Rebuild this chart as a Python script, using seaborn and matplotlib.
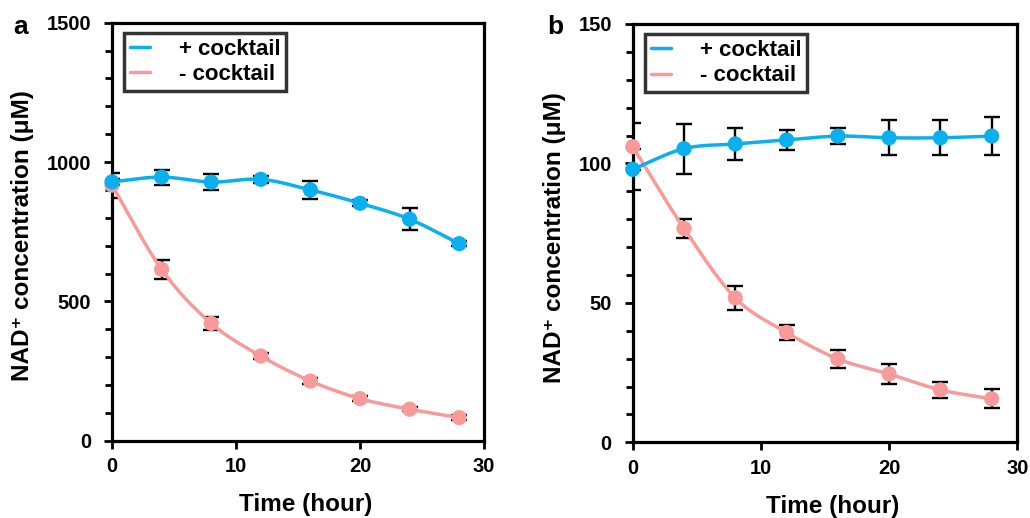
import numpy as np
import pandas as pd
import matplotlib
matplotlib.use("Agg")
import matplotlib.pyplot as plt
from matplotlib.ticker import MultipleLocator
from matplotlib.lines import Line2D
import seaborn as sns

# ---------------- data ----------------
time_h = [0, 4, 8, 12, 16, 20, 24, 28]

a_plus = [929, 946, 928, 938, 900, 852, 795, 707]
a_plus_err = [10, 27, 30, 12, 31, 10, 39, 10]
a_minus = [917, 615, 421, 304, 214, 151, 113, 83]
a_minus_err = [45, 33, 22, 10, 12, 8, 8, 8]

b_plus = [97.9, 105.3, 107.0, 108.4, 109.8, 109.2, 109.2, 109.8]
b_plus_err = [7.3, 9.0, 5.7, 3.7, 2.9, 6.3, 6.3, 6.8]
b_minus = [106.0, 76.7, 51.8, 39.4, 29.9, 24.5, 18.8, 15.6]
b_minus_err = [8.5, 3.4, 4.3, 2.8, 3.2, 3.5, 3.0, 3.4]

series_labels = ["+ cocktail", "- cocktail"]
panel_letters = ["a", "b"]
x_label = "Time (hour)"
y_label = "NAD\u207a concentration (\u03bcM)"

BLUE = "#0AB0EE"
PINK = "#F89A9A"

sns.set_theme(style="white")
plt.rcParams["font.family"] = ["Liberation Sans", "DejaVu Sans"]
plt.rcParams["font.weight"] = "bold"
for key in ("text.color", "axes.labelcolor", "xtick.color", "ytick.color"):
    plt.rcParams[key] = "black"


def smooth(x, y, n=20):
    """Catmull-Rom display curve through the data points (rendering only)."""
    x = np.asarray(x, float)
    y = np.asarray(y, float)
    px = np.concatenate([[2 * x[0] - x[1]], x, [2 * x[-1] - x[-2]]])
    py = np.concatenate([[2 * y[0] - y[1]], y, [2 * y[-1] - y[-2]]])
    xs, ys = [], []
    t = np.linspace(0, 1, n, endpoint=False)
    for i in range(1, len(px) - 2):
        for arr, out in ((px, xs), (py, ys)):
            p0, p1, p2, p3 = arr[i - 1], arr[i], arr[i + 1], arr[i + 2]
            out.extend(0.5 * ((2 * p1) + (-p0 + p2) * t
                              + (2 * p0 - 5 * p1 + 4 * p2 - p3) * t ** 2
                              + (-p0 + 3 * p1 - 3 * p2 + p3) * t ** 3))
    xs.append(x[-1]); ys.append(y[-1])
    return np.array(xs), np.array(ys)


W, H = 1030, 518
fig = plt.figure(figsize=(W / 100, H / 100), dpi=100)
ax_a = fig.add_axes([112 / W, 1 - 440.7 / H, (484 - 112) / W, (440.7 - 22.7) / H])
ax_b = fig.add_axes([632.7 / W, 1 - 442.3 / H, (1017.3 - 632.7) / W, (442.3 - 24) / H])

panels = [
    (ax_a, a_plus, a_plus_err, a_minus, a_minus_err, 1500, 500, 100, 13, 34),
    (ax_b, b_plus, b_plus_err, b_minus, b_minus_err, 150, 50, 10, 547, 566),
]

for k, (ax, yp, ep, ym, em, ymax, major, minor, letter_x, ylab_x) in enumerate(panels):
    for vals, errs, col, z in ((ym, em, PINK, 3), (yp, ep, BLUE, 4)):
        ax.errorbar(time_h, vals, yerr=errs, fmt="none", ecolor="black",
                    elinewidth=1.7, capsize=5.5, capthick=1.7, zorder=2)
        sx, sy = smooth(time_h, vals)
        sns.lineplot(x=sx, y=sy, ax=ax, color=col, linewidth=2.5,
                     sort=False, estimator=None, zorder=z)
        sns.scatterplot(x=time_h, y=vals, ax=ax, color=col, s=120,
                        edgecolor="none", zorder=z + 0.5, clip_on=False)

    ax.set_xlim(0, 30)
    ax.set_ylim(0, ymax)
    ax.xaxis.set_major_locator(MultipleLocator(10))
    ax.yaxis.set_major_locator(MultipleLocator(major))
    ax.yaxis.set_minor_locator(MultipleLocator(minor))
    ax.tick_params(axis="both", which="major", direction="out", length=6,
                   width=2, labelsize=14.5, left=True, bottom=True,
                   top=False, right=False, colors="black")
    ax.tick_params(axis="y", which="major", pad=9)
    ax.tick_params(axis="x", which="major", pad=6)
    ax.tick_params(axis="y", which="minor", direction="out", length=5,
                   width=2, left=True, right=False)
    for lab in ax.get_xticklabels() + ax.get_yticklabels():
        lab.set_fontweight("bold")
    for sp in ax.spines.values():
        sp.set_linewidth(2.3)
        sp.set_color("black")
        sp.set_visible(True)
    ax.set_xlabel(x_label, fontsize=17.5, fontweight="bold", va="top")
    ax.set_ylabel(y_label, fontsize=17.5, fontweight="bold")
    bbox = ax.get_position()
    ax_w_px = bbox.width * W
    ax_left_px = bbox.x0 * W
    ax.yaxis.set_label_coords((ylab_x - ax_left_px) / ax_w_px, 0.49)
    ax.xaxis.set_label_coords(0.52, -0.125)
    ax.grid(False)

    handles = [Line2D([], [], color=BLUE, lw=2.5),
               Line2D([], [], color=PINK, lw=2.5)]
    leg = ax.legend(handles, series_labels, loc="upper left",
                    bbox_to_anchor=(0.033, 0.975), frameon=True, fancybox=False,
                    prop={"size": 16, "weight": "bold"}, handlelength=0.9,
                    handletextpad=1.3, borderpad=0.25, labelspacing=0.2,
                    borderaxespad=0.0)
    leg.get_frame().set_edgecolor("black")
    leg.get_frame().set_linewidth(2.5)
    for t in leg.get_texts():
        t.set_color("black")

    fig.text(letter_x / W, 1 - 34 / H, panel_letters[k], fontsize=19,
             fontweight="bold", ha="left", va="baseline")

fig.savefig("out.png", dpi=100)
